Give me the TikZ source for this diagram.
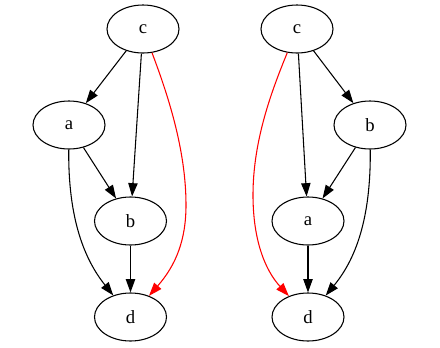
\documentclass[tikz,border=0pt]{standalone}
\usepackage{fontspec}
\setmainfont{Liberation Serif}
\usepackage{tikz}
\usetikzlibrary{arrows.meta, shapes.geometric}

\begin{document}
\begin{tikzpicture}[
    x=0.75pt, y=-0.75pt,
    vert/.style={draw, ellipse, line width=0.8pt, minimum width=54pt, minimum height=36pt,
                 inner sep=0pt, font=\fontsize{14}{16}\selectfont},
    arr/.style={-{Triangle[length=10pt, width=7pt]}, line width=0.8pt},
    redarr/.style={arr, red},
]
\useasboundingbox (0,0) rectangle (440,347);

% left graph
\node[vert] (cL) at (143,29) {c};
\node[vert] (aL) at (69,125) {a};
\node[vert] (bL) at (130.5,221) {b};
\node[vert] (dL) at (130.5,317) {d};

\draw[arr] (cL) -- (aL);
\draw[arr] (cL) -- (bL);
\draw[arr] (aL) -- (bL);
\draw[arr] (bL) -- (dL);
\draw[arr] (aL) .. controls (68,220) and (85,260) .. (dL);
\draw[redarr] (cL) .. controls (168,95) and (186,150) .. (186,205)
                   .. controls (186,240) and (176,265) .. (dL);

% right graph
\node[vert] (cR) at (297,29) {c};
\node[vert] (bR) at (370,125) {b};
\node[vert] (aR) at (308,221) {a};
\node[vert] (dR) at (308,317) {d};

\draw[arr] (cR) -- (bR);
\draw[arr] (cR) -- (aR);
\draw[arr] (bR) -- (aR);
\draw[arr] (aR) -- (dR);
\draw[arr] (bR) .. controls (371,220) and (355,260) .. (dR);
\draw[redarr] (cR) .. controls (272,90) and (253,140) .. (253,195)
                   .. controls (253,240) and (265,270) .. (dR);

\end{tikzpicture}
\end{document}
